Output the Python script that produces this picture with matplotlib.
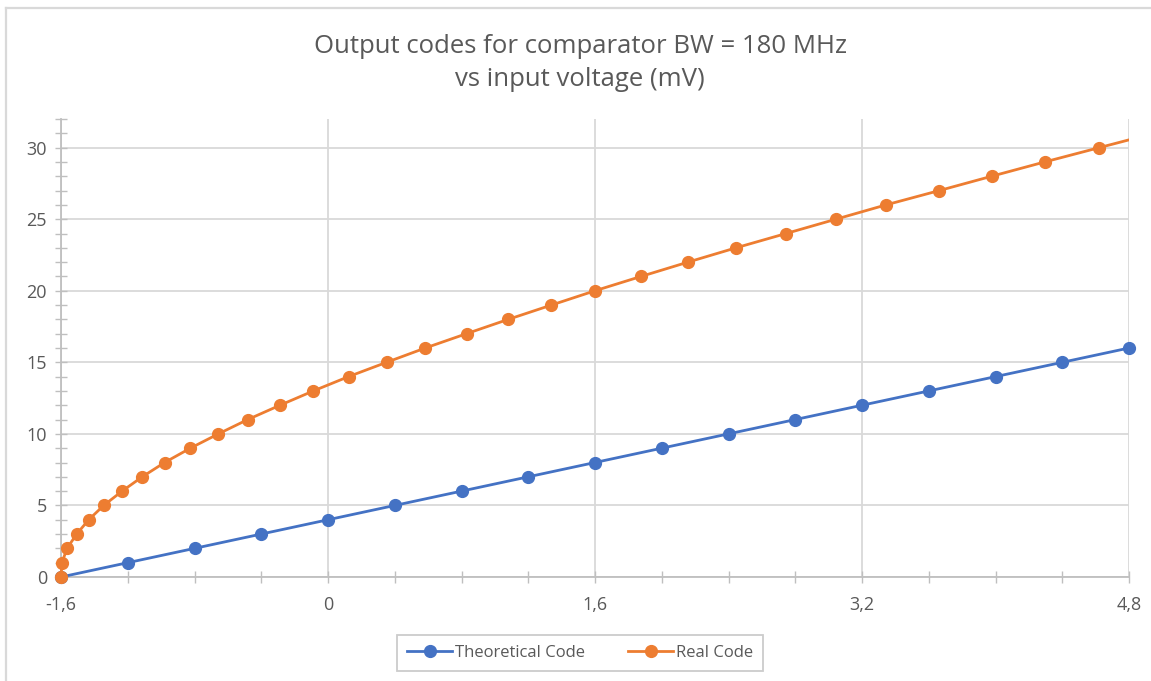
import matplotlib
matplotlib.use("Agg")
import matplotlib.pyplot as plt
from matplotlib.ticker import MultipleLocator
from matplotlib.patches import Rectangle
from matplotlib.lines import Line2D

plt.rcParams['font.family'] = ['Open Sans', 'DejaVu Sans']

# ---- data ----
theo_x = [-1.6, -1.2, -0.8, -0.4, 0.0, 0.4, 0.8, 1.2, 1.6, 2.0, 2.4, 2.8, 3.2, 3.6, 4.0, 4.4, 4.8]
theo_y = [0, 1, 2, 3, 4, 5, 6, 7, 8, 9, 10, 11, 12, 13, 14, 15, 16]

real_x = [-1.600, -1.594, -1.564, -1.506, -1.434, -1.344, -1.234, -1.113, -0.979, -0.825,
          -0.657, -0.481, -0.288, -0.088, 0.123, 0.351, 0.583, 0.830, 1.080, 1.339,
          1.600, 1.876, 2.157, 2.445, 2.745, 3.044, 3.344, 3.663, 3.977, 4.295,
          4.622, 4.950]
real_y = [0, 1, 2, 3, 4, 5, 6, 7, 8, 9,
          10, 11, 12, 13, 14, 15, 16, 17, 18, 19,
          20, 21, 22, 23, 24, 25, 26, 27, 28, 29,
          30, 31]

x_major = [-1.6, 0.0, 1.6, 3.2, 4.8]
x_labels = ["-1,6", "0", "1,6", "3,2", "4,8"]
y_major = [0, 5, 10, 15, 20, 25, 30]

title = "Output codes for comparator BW = 180 MHz\nvs input voltage (mV)"
series_names = ["Theoretical Code", "Real Code"]

BLUE = "#4472C4"
ORANGE = "#ED7D31"
GRID = "#D9D9D9"
AXC = "#BFBFBF"
TXT = "#595959"

W, H = 1151, 681
fig = plt.figure(figsize=(W / 100, H / 100), dpi=100)
ax = fig.add_axes([61 / W, (H - 577) / H, 1068 / W, 458 / H])

ax.set_xlim(-1.6, 4.8)
ax.set_ylim(0, 32)

ax.set_xticks(x_major)
ax.set_xticklabels(x_labels)
ax.xaxis.set_minor_locator(MultipleLocator(0.4))
ax.set_yticks(y_major)
ax.yaxis.set_minor_locator(MultipleLocator(1))

ax.grid(True, which='major', color=GRID, linewidth=1.3)
ax.set_axisbelow(True)

for s in ['top', 'right']:
    ax.spines[s].set_visible(False)
for s in ['left', 'bottom']:
    ax.spines[s].set_color(AXC)
    ax.spines[s].set_linewidth(1.3)

ax.tick_params(axis='both', which='both', color=AXC, width=1.0, direction='inout',
               labelcolor=TXT, labelsize=13)
ax.tick_params(axis='y', which='major', length=8, pad=6)
ax.tick_params(axis='y', which='minor', length=8)
ax.tick_params(axis='x', which='major', length=8, pad=10)
ax.tick_params(axis='x', which='minor', length=8)

l1, = ax.plot(theo_x, theo_y, color=BLUE, linewidth=2.0, marker='o', markersize=8.5,
              clip_on=False, zorder=3)
l2, = ax.plot(real_x, real_y, color=ORANGE, linewidth=2.0, marker='o', markersize=8.5,
              zorder=4)
clip = Rectangle((-0.05, -0.05), 1.05, 1.1, transform=ax.transAxes)
l2.set_clip_path(clip)

fig.text(580 / W, 1 - 63 / H, title, ha='center', va='center', fontsize=18.5,
         color=TXT, linespacing=1.42)

handles = [Line2D([], [], color=BLUE, linewidth=2.0, marker='o', markersize=8.5),
           Line2D([], [], color=ORANGE, linewidth=2.0, marker='o', markersize=8.5)]
leg = fig.legend(handles, series_names, loc='center', bbox_to_anchor=(580 / W, 1 - 653 / H),
                 ncol=2, frameon=True, fancybox=False, fontsize=12, labelcolor=TXT,
                 handlelength=2.7, handletextpad=0.15, columnspacing=2.6,
                 borderpad=0.62, borderaxespad=0)
leg.get_frame().set_edgecolor(AXC)
leg.get_frame().set_linewidth(1.3)

# outer chart border (top and left visible)
fig.add_artist(Line2D([5.5 / W, 1.0], [1 - 7.5 / H, 1 - 7.5 / H], transform=fig.transFigure,
                      color=GRID, linewidth=1.6))
fig.add_artist(Line2D([5.5 / W, 5.5 / W], [0.0, 1 - 7.5 / H], transform=fig.transFigure,
                      color=GRID, linewidth=1.6))

fig.savefig("out.png", dpi=100)
